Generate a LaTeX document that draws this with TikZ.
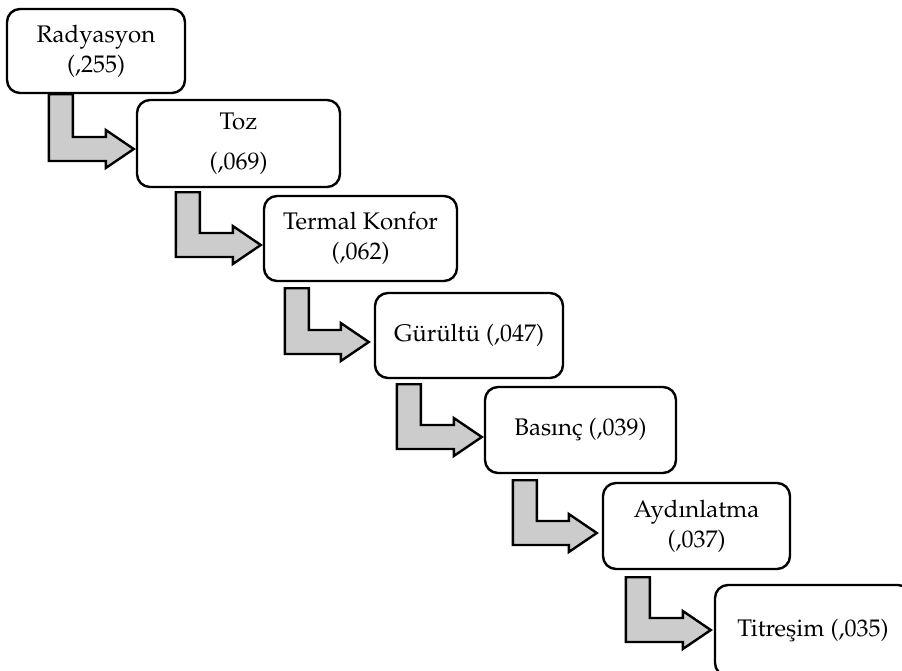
\documentclass[tikz,border=0pt]{standalone}
\usepackage[T1]{fontenc}
\usepackage{mathpazo}
\usetikzlibrary{calc}
\tikzset{
  box/.style={draw=black, line width=2.4pt, rounded corners=13pt, fill=white,
    align=center, inner sep=0pt, font=\fontsize{24}{30}\selectfont},
  bentarrow/.style={draw=black, line width=2.4pt, fill=black!20, line join=miter}
}
\newcommand\bentarr[6]{%
  \path[bentarrow] let \p1=($(#1.south west)+(#3,#4)$), \p2=($(#2.west)+(#5,#6)$) in
    (\x1,\y1) -- (\x1+24pt,\y1) -- (\x1+24pt,\y2+12pt) -- (\x2-28pt,\y2+12pt)
    -- (\x2-28pt,\y2+19pt) -- (\x2,\y2) -- (\x2-28pt,\y2-19pt) -- (\x2-28pt,\y2-12pt)
    -- (\x1,\y2-12pt) -- cycle;}
\begin{document}
\begin{tikzpicture}[x=1pt,y=-1pt]
\useasboundingbox (0,0) rectangle (902,670);
\clip (0,0) rectangle (902,670);
\node[box, minimum width=178pt, minimum height=84pt] (b1) at (96,51) {Radyasyon\\(,255)};
\node[box, minimum width=203pt, minimum height=87pt] (b2) at (238.5,143.5) {Toz\\[10pt](,069)};
\node[box, minimum width=193pt, minimum height=85pt] (b3) at (360.5,238.5) {Termal Konfor\\(,062)};
\node[box, minimum width=188pt, minimum height=85pt] (b4) at (469,335.5) {G\"ur\"ult\"u (,047)};
\node[box, minimum width=191pt, minimum height=86pt] (b5) at (580.5,430) {Bas\i n\c{c} (,039)};
\node[box, minimum width=187pt, minimum height=86pt] (b6) at (696.5,526) {Ayd\i nlatma\\(,037)};
\node[box, minimum width=196pt, minimum height=91pt] (b7) at (813,630.5) {Titre\c{s}im (,035)};
\bentarr{b1}{b2}{43}{0}{-2}{5.5}
\bentarr{b2}{b3}{40}{4}{-2}{6.5}
\bentarr{b3}{b4}{22}{6}{-5}{6.5}
\bentarr{b4}{b5}{23}{5}{-2}{7}
\bentarr{b5}{b6}{29}{6}{-5}{7}
\bentarr{b6}{b7}{24}{7}{-3}{-0.5}
\end{tikzpicture}
\end{document}
